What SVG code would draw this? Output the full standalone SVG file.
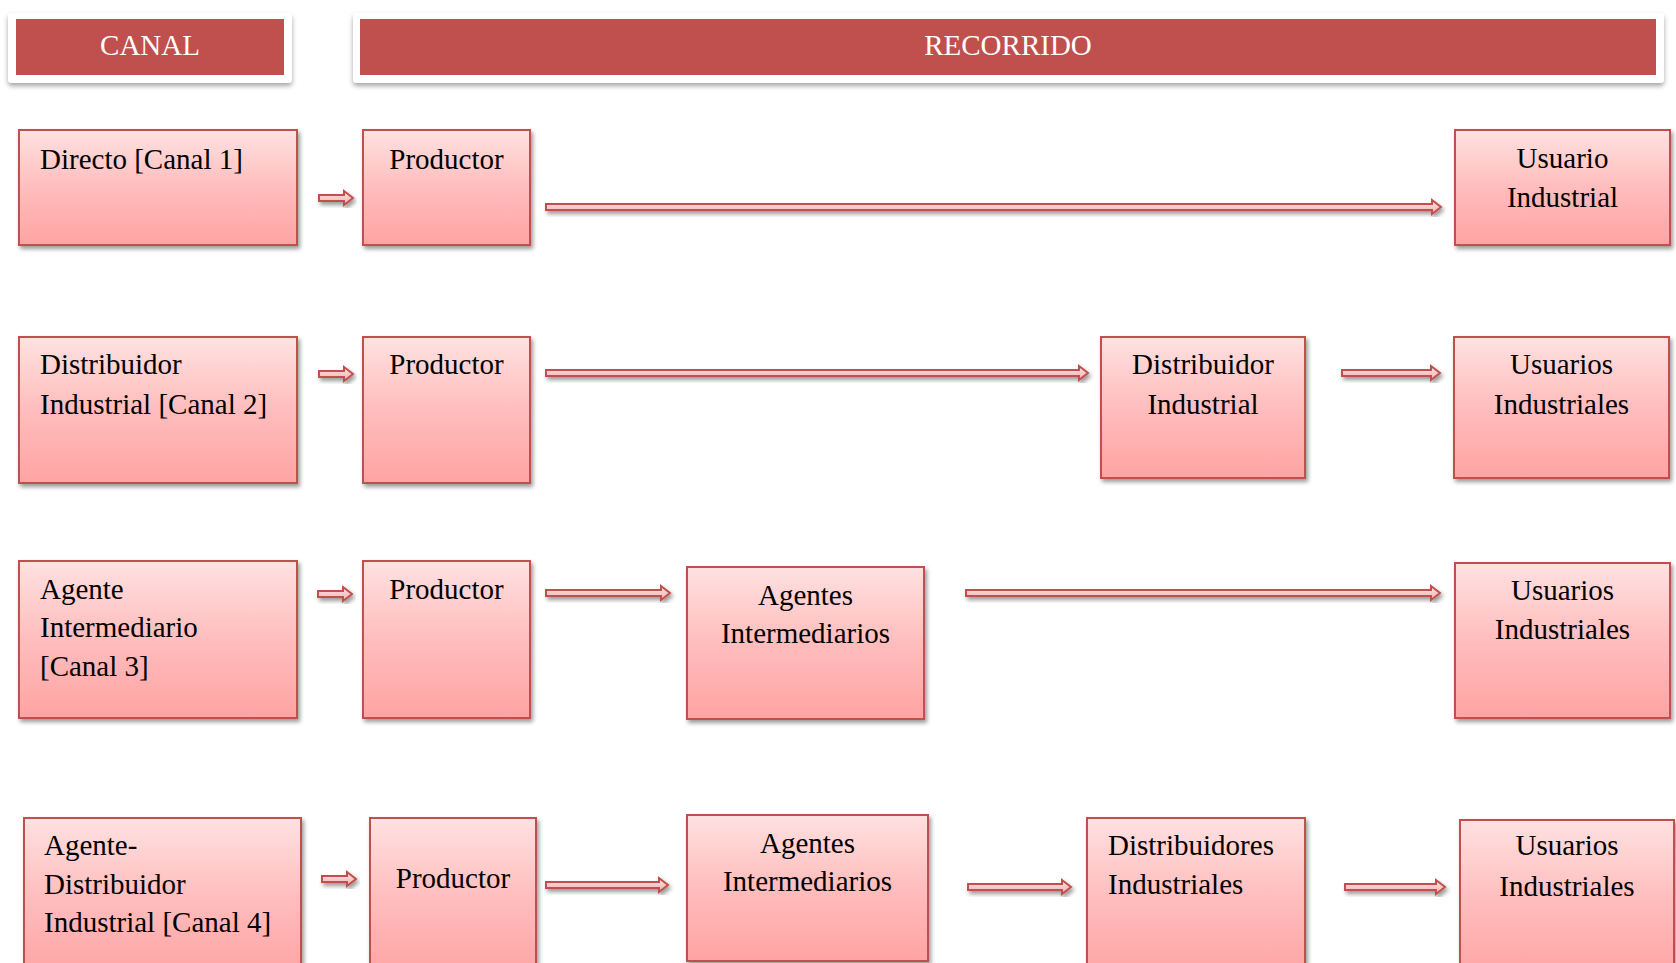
<svg xmlns="http://www.w3.org/2000/svg" width="1676" height="963" viewBox="0 0 1676 963">
<defs>
<linearGradient id="g" x1="0" y1="0" x2="0" y2="1">
<stop offset="0" stop-color="#ffe1e1"/>
<stop offset="0.5" stop-color="#ffbdbd"/>
<stop offset="1" stop-color="#ffa3a3"/>
</linearGradient>
<linearGradient id="ga" x1="0" y1="0" x2="0" y2="1">
<stop offset="0" stop-color="#fde3e3"/>
<stop offset="1" stop-color="#f4b1b1"/>
</linearGradient>
<filter id="sh" x="-10%" y="-10%" width="120%" height="130%">
<feDropShadow dx="2" dy="3" stdDeviation="2" flood-color="#000" flood-opacity="0.4"/>
</filter>
<filter id="shc" x="-5%" y="-20%" width="110%" height="150%">
<feDropShadow dx="0" dy="3" stdDeviation="2.5" flood-color="#000" flood-opacity="0.35"/>
</filter>
</defs>
<style>
.box{fill:url(#g);stroke:#c0504d;stroke-width:2;filter:url(#sh)}
.card{fill:#fff;filter:url(#shc)}
.hdr{fill:#c0504d}
.ht{font-family:"Liberation Serif","Times New Roman",serif;font-size:29px;fill:#fff;text-anchor:middle}
.t{font-family:"Liberation Serif","Times New Roman",serif;font-size:29px;fill:#000}
.c{text-anchor:middle}
.arr{fill:url(#ga);stroke:#c0504d;stroke-width:2;stroke-linejoin:miter;filter:url(#sh)}
</style>
<rect width="1676" height="963" fill="#fff"/>

<g id="hdr-canal">
<rect class="card" x="8" y="13" width="284" height="70" rx="4"/>
<rect class="hdr" x="16" y="19" width="268" height="56"/>
<text class="ht" x="150" y="55">CANAL</text>
</g>
<g id="hdr-recorrido">
<rect class="card" x="353" y="13" width="1311" height="70" rx="4"/>
<rect class="hdr" x="360" y="19" width="1296" height="56"/>
<text class="ht" x="1008" y="55">RECORRIDO</text>
</g>

<g id="connectors">
<path class="arr" d="M319,195 H344 V191 L353,198 L344,205 V201 H319 Z"/>
<path class="arr" d="M546,204 H1432 V200 L1441,207 L1432,214 V210 H546 Z"/>

<path class="arr" d="M319,371 H344 V367 L353,374 L344,381 V377 H319 Z"/>
<path class="arr" d="M546,370 H1079 V366 L1088,373 L1079,380 V376 H546 Z"/>
<path class="arr" d="M1342,370 H1431 V366 L1440,373 L1431,380 V376 H1342 Z"/>

<path class="arr" d="M318,591 H343 V587 L352,594 L343,601 V597 H318 Z"/>
<path class="arr" d="M546,590 H661 V586 L670,593 L661,600 V596 H546 Z"/>
<path class="arr" d="M966,590 H1431 V586 L1440,593 L1431,600 V596 H966 Z"/>

<path class="arr" d="M322,876 H347 V872 L356,879 L347,886 V882 H322 Z"/>
<path class="arr" d="M546,882 H659 V878 L668,885 L659,892 V888 H546 Z"/>
<path class="arr" d="M968,884 H1062 V880 L1071,887 L1062,894 V890 H968 Z"/>
<path class="arr" d="M1345,884 H1436 V880 L1445,887 L1436,894 V890 H1345 Z"/>
</g>

<g id="canal1">
<rect class="box" x="19" y="130" width="278" height="115"/>
<text class="t" x="40" y="169">Directo [Canal 1]</text>
</g>
<g id="productor1">
<rect class="box" x="363" y="130" width="167" height="115"/>
<text class="t c" x="446.5" y="169">Productor</text>
</g>
<g id="usuario1">
<rect class="box" x="1455" y="130" width="215" height="115"/>
<text class="t c" x="1562.5" y="168">Usuario</text>
<text class="t c" x="1562.5" y="207">Industrial</text>
</g>

<g id="canal2">
<rect class="box" x="19" y="337" width="278" height="146"/>
<text class="t" x="40" y="374">Distribuidor</text>
<text class="t" x="40" y="414">Industrial [Canal 2]</text>
</g>
<g id="productor2">
<rect class="box" x="363" y="337" width="167" height="146"/>
<text class="t c" x="446.5" y="374">Productor</text>
</g>
<g id="distribuidor2">
<rect class="box" x="1101" y="337" width="204" height="141"/>
<text class="t c" x="1203" y="374">Distribuidor</text>
<text class="t c" x="1203" y="414">Industrial</text>
</g>
<g id="usuarios2">
<rect class="box" x="1454" y="337" width="215" height="141"/>
<text class="t c" x="1561.5" y="374">Usuarios</text>
<text class="t c" x="1561.5" y="414">Industriales</text>
</g>

<g id="canal3">
<rect class="box" x="19" y="561" width="278" height="157"/>
<text class="t" x="40" y="599">Agente</text>
<text class="t" x="40" y="637">Intermediario</text>
<text class="t" x="40" y="676">[Canal 3]</text>
</g>
<g id="productor3">
<rect class="box" x="363" y="561" width="167" height="157"/>
<text class="t c" x="446.5" y="599">Productor</text>
</g>
<g id="agentes3">
<rect class="box" x="687" y="567" width="237" height="152"/>
<text class="t c" x="805.5" y="605">Agentes</text>
<text class="t c" x="805.5" y="643">Intermediarios</text>
</g>
<g id="usuarios3">
<rect class="box" x="1455" y="563" width="215" height="155"/>
<text class="t c" x="1562.5" y="600">Usuarios</text>
<text class="t c" x="1562.5" y="639">Industriales</text>
</g>

<g id="canal4">
<rect class="box" x="24" y="818" width="277" height="160"/>
<text class="t" x="44" y="855">Agente-</text>
<text class="t" x="44" y="894">Distribuidor</text>
<text class="t" x="44" y="932">Industrial [Canal 4]</text>
</g>
<g id="productor4">
<rect class="box" x="370" y="818" width="166" height="160"/>
<text class="t c" x="453" y="888">Productor</text>
</g>
<g id="agentes4">
<rect class="box" x="687" y="815" width="241" height="146"/>
<text class="t c" x="807.5" y="853">Agentes</text>
<text class="t c" x="807.5" y="891">Intermediarios</text>
</g>
<g id="distribuidores4">
<rect class="box" x="1087" y="818" width="218" height="160"/>
<text class="t" x="1108" y="855">Distribuidores</text>
<text class="t" x="1108" y="894">Industriales</text>
</g>
<g id="usuarios4">
<rect class="box" x="1460" y="820" width="214" height="160"/>
<text class="t c" x="1567" y="855">Usuarios</text>
<text class="t c" x="1567" y="896">Industriales</text>
</g>
</svg>
